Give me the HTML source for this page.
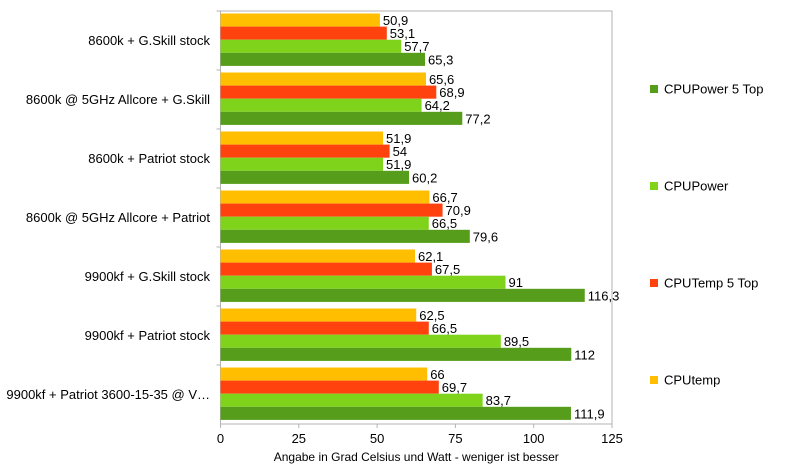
<!DOCTYPE html>
<html><head><meta charset="utf-8"><style>
body{margin:0;background:#fff;}
svg{display:block;font-family:"Liberation Sans",sans-serif;}
</style></head><body>
<svg id="c" width="795" height="469"></svg>
<script>
const categories=["8600k + G.Skill stock","8600k @ 5GHz Allcore + G.Skill","8600k + Patriot stock","8600k @ 5GHz Allcore + Patriot","9900kf + G.Skill stock","9900kf + Patriot stock","9900kf + Patriot 3600-15-35 @ V…"];
const cpuTemp=[50.9,65.6,51.9,66.7,62.1,62.5,66];
const cpuTemp5=[53.1,68.9,54,70.9,67.5,66.5,69.7];
const cpuPower=[57.7,64.2,51.9,66.5,91,89.5,83.7];
const cpuPower5=[65.3,77.2,60.2,79.6,116.3,112,111.9];
const ticks=[0,25,50,75,100,125];
const NS="http://www.w3.org/2000/svg",svg=document.getElementById('c');
function mk(t,a,txt){const e=document.createElementNS(NS,t);for(const k in a)e.setAttribute(k,a[k]);if(txt!==undefined)e.textContent=txt;svg.appendChild(e);return e;}
const x0=220.5,x1=612,plotTop=11,plotBot=424;
const xs=v=>x0+(v-0)/125*(x1-x0);
const gh=(plotBot-plotTop)/categories.length;
let fr=mk('rect',{x:x0,y:plotTop,width:x1-x0,height:plotBot-plotTop,fill:'none',stroke:'#b3b3b3','stroke-width':1});


ticks.forEach(t=>{
 let l=mk('line',{x1:xs(t),x2:xs(t),y1:plotBot,y2:plotBot+4,stroke:'#b3b3b3'});
 
 
 let tx=mk('text',{x:xs(t),y:plotBot+19,'text-anchor':'middle','font-size':13,fill:'#000'},t);
 
 
});
const series=[[cpuTemp,'#ffbf00','cputemp'],[cpuTemp5,'#ff420e','cputemp-5-top'],[cpuPower,'#7fd41b','cpupower'],[cpuPower5,'#579d1c','cpupower-5-top']];
categories.forEach((c,i)=>{
 const gy=plotTop+i*gh;
 let tk=mk('line',{x1:x0-4,x2:x0,y1:gy,y2:gy,stroke:'#b3b3b3'});
 
 
 let lb=mk('text',{x:210,y:gy+gh/2+4.5,'text-anchor':'end','font-size':13,fill:'#000'},c);
 
 
 series.forEach((s,j)=>{
  const v=s[0][i],y=gy+2.5+j*13.1;
  let r=mk('rect',{x:x0,y:y,width:xs(v)-x0,height:13.1,fill:s[1]});
  
  
  let t=mk('text',{x:xs(v)+3,y:y+11.5,'font-size':13,fill:'#000'},String(v).replace('.',','));
  
  
 });
});
let xt=mk('text',{x:(x0+x1)/2,y:461,'text-anchor':'middle','font-size':12,fill:'#000'},'Angabe in Grad Celsius und Watt - weniger ist besser');


const legNames=['CPUPower 5 Top','CPUPower','CPUTemp 5 Top','CPUtemp'];
const legCols=['#579d1c','#7fd41b','#ff420e','#ffbf00'];
const legY=[89,186,283,380];
legNames.forEach((n,i)=>{
 let r=mk('rect',{x:650,y:legY[i]-4,width:8,height:8,fill:legCols[i]});
 
 
 let t=mk('text',{x:664,y:legY[i]+4.5,'font-size':13,fill:'#000'},n);
 
 
});
</script>
</body></html>
